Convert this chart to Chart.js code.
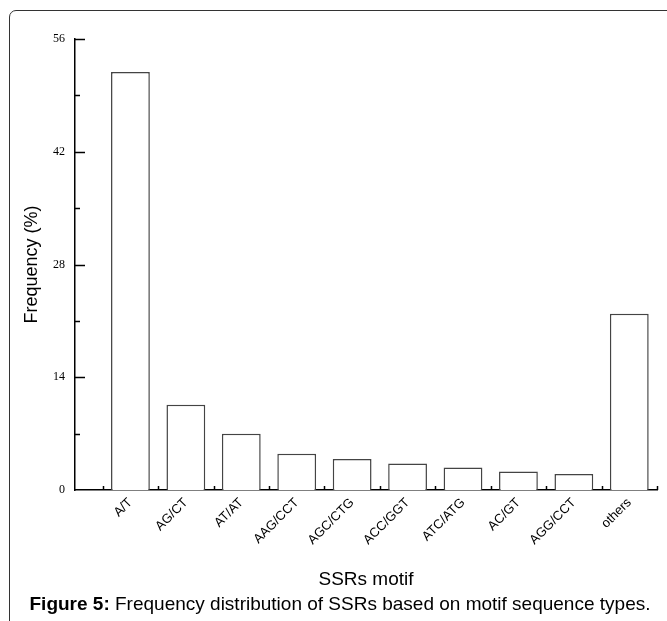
<!DOCTYPE html>
<html>
<head>
<meta charset="utf-8">
<script src="https://cdn.jsdelivr.net/npm/chart.js@4.4.1/dist/chart.umd.min.js"></script>
<style>
    body { margin: 0; background: #fff; width: 667px; height: 621px; overflow: hidden; position: relative; }
    #frame { position: absolute; left: 9px; top: 10px; width: 700px; height: 700px; border: 1.5px solid #333; border-radius: 7px; }
    #wrap { position: absolute; left: 0; top: 0; width: 667px; height: 621px; }
    #caption { position: absolute; left: 0; width: 680px; top: 593px; text-align: center; font-family: "Liberation Sans", Arial, sans-serif; font-size: 19px; color: #000; white-space: nowrap; }
</style>
</head>
<body>
<div id="frame"></div>
<div id="wrap"><canvas id="motifChart" width="667" height="621"></canvas></div>
<div id="caption"><b>Figure 5:</b> Frequency distribution of SSRs based on motif sequence types.</div>
<script>
const motifs = ['A/T', 'AG/CT', 'AT/AT', 'AAG/CCT', 'AGC/CTG', 'ACC/GGT', 'ATC/ATG', 'AC/GT', 'AGG/CCT', 'others'];
const frequency = [51.9, 10.6, 7.0, 4.5, 3.85, 3.3, 2.8, 2.3, 2.0, 21.9];
const yTicks = [0, 14, 28, 42, 56];

// short inward tick marks, like the original plot
const innerTicks = {
    id: 'innerTicks',
    afterDraw(chart) {
        const ctx = chart.ctx;
        const x = chart.scales.x;
        const y = chart.scales.y;
        ctx.save();
        ctx.strokeStyle = '#000';
        ctx.lineWidth = 1.5;
        for (let v = 7; v <= 56; v += 7) {
            const py = Math.round(y.getPixelForValue(v)) + 0.5;
            const len = yTicks.includes(v) ? 10 : 5;
            ctx.beginPath();
            ctx.moveTo(x.left, py);
            ctx.lineTo(x.left + len, py);
            ctx.stroke();
        }
        for (let i = 0; i <= motifs.length; i++) {
            const px = Math.round(x.getPixelForValue(i - 0.5)) + 0.5;
            ctx.beginPath();
            ctx.moveTo(px, y.bottom);
            ctx.lineTo(px, y.bottom - 4);
            ctx.stroke();
        }
        ctx.restore();
    }
};

const ctx = document.getElementById('motifChart').getContext('2d');
const motifChart = new Chart(ctx, {
    type: 'bar',
    data: {
        datasets: [{
            data: motifs.map(function (m, i) { return { x: i, y: frequency[i] }; }),
            backgroundColor: '#fff',
            borderColor: '#444',
            borderWidth: 1.5,
            barPercentage: 0.7,
            categoryPercentage: 1.0
        }]
    },
    options: {
        responsive: false,
        animation: false,
        layout: { padding: { left: 9, top: 39, right: 10, bottom: 0 } },
        plugins: {
            legend: { display: false },
            tooltip: { enabled: false }
        },
        scales: {
            x: {
                type: 'linear',
                offset: false,
                min: -1,
                max: 9.5,
                afterBuildTicks: function (axis) {
                    axis.ticks = motifs.map(function (m, i) { return { value: i }; });
                },
                afterFit: function (axis) { axis.height = 131; },
                grid: { display: false, drawTicks: false, offset: false },
                border: { color: '#000', width: 1.5 },
                ticks: {
                    autoSkip: false,
                    minRotation: 45,
                    maxRotation: 45,
                    padding: 5,
                    color: '#000',
                    font: { family: 'Liberation Sans', size: 13 },
                    callback: function (v) { return motifs[v]; }
                },
                title: {
                    display: true,
                    text: 'SSRs motif',
                    color: '#000',
                    font: { family: 'Liberation Sans', size: 19 },
                    padding: { top: 0, bottom: 30 }
                }
            },
            y: {
                min: 0,
                max: 56,
                afterBuildTicks: function (axis) {
                    axis.ticks = yTicks.map(function (v) { return { value: v }; });
                },
                afterFit: function (axis) { axis.width = 66; },
                grid: { display: false, drawTicks: false },
                border: { color: '#000', width: 1.5 },
                ticks: {
                    padding: 10,
                    color: '#000',
                    font: { family: 'Liberation Serif', size: 12 }
                },
                title: {
                    display: true,
                    text: 'Frequency (%)',
                    color: '#000',
                    font: { family: 'Liberation Sans', size: 18 },
                    padding: { top: 12, bottom: 0 }
                }
            }
        }
    },
    plugins: [innerTicks]
});
</script>
</body>
</html>
